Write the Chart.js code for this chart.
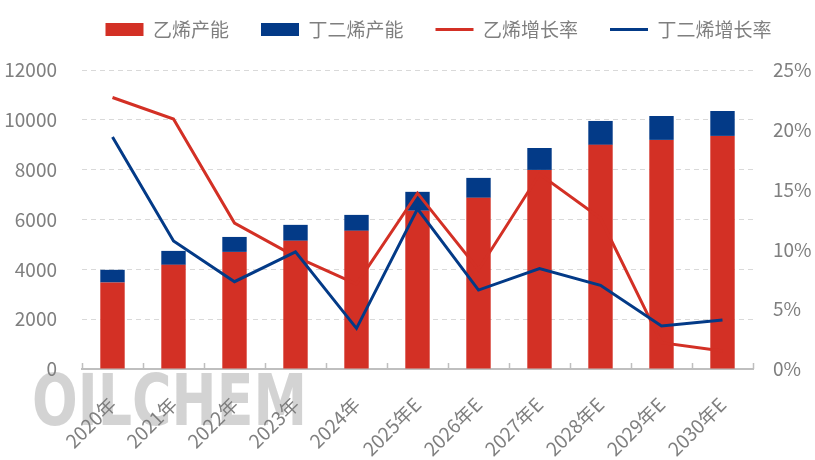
<!DOCTYPE html>
<html>
<head>
<meta charset="utf-8">
<script src="https://cdn.jsdelivr.net/npm/chart.js@4/dist/chart.umd.min.js"></script>
<style>
  html, body { margin: 0; padding: 0; background: #fff; }
  #wrap { width: 815px; height: 460px; }
</style>
</head>
<body>
<div id="wrap"><canvas id="grafico"></canvas></div>
<script>
// Categorías del eje X
const anios = ['2020年', '2021年', '2022年', '2023年', '2024年', '2025年E', '2026年E', '2027年E', '2028年E', '2029年E', '2030年E'];

// Capacidad (barras apiladas, eje izquierdo)
const capEtileno  = [3470, 4180, 4700, 5145, 5545, 6350, 6870, 7990, 8995, 9195, 9355];
const capButadieno = [510, 560, 600, 640, 640, 760, 800, 880, 960, 960, 1000];

// Tasas de crecimiento en % (líneas, eje derecho)
const crecEtileno   = [22.7, 20.9, 12.2, 9.4, 7.1, 14.7, 8.3, 16.3, 12.6, 2.2, 1.5];
const crecButadieno = [19.4, 10.7, 7.3, 9.8, 3.4, 13.4, 6.6, 8.4, 7.0, 3.6, 4.1];

const ROJO = '#D33025';
const AZUL = '#033A87';
const GRIS = '#7f7f7f';
const FUENTE = "'Noto Sans CJK SC', 'Noto Sans', sans-serif";

// Marca de agua "OILCHEM" detrás del gráfico
const marcaAgua = {
    id: 'marcaAgua',
    beforeDraw(chart) {
        const ctx = chart.ctx;
        ctx.save();
        ctx.font = "bold 71px 'DejaVu Sans', sans-serif";
        const w = ctx.measureText('OILCHEM').width;
        const g = ctx.createLinearGradient(0, 373, 0, 426);
        g.addColorStop(0, '#d3d3d3');
        g.addColorStop(1, '#f5f5f5');
        ctx.fillStyle = g;
        ctx.textBaseline = 'alphabetic';
        ctx.translate(32, 425);
        ctx.scale(275 / w, 1);
        ctx.fillText('OILCHEM', 0, 0);
        ctx.restore();
    }
};

// Pequeñas marcas hacia arriba sobre el eje X, entre categorías
const marcasEje = {
    id: 'marcasEje',
    afterDraw(chart) {
        const x = chart.scales.x;
        const n = x.getLabels().length;
        const ctx = chart.ctx;
        ctx.save();
        ctx.strokeStyle = '#bfbfbf';
        ctx.lineWidth = 1.5;
        for (let i = 0; i <= n; i++) {
            const px = Math.round(x.left + i * (x.right - x.left) / n) + 0.5;
            ctx.beginPath();
            ctx.moveTo(px, x.top);
            ctx.lineTo(px, x.top - 6);
            ctx.stroke();
        }
        ctx.restore();
    }
};

// Ajusta el alto y la posición de la leyenda
const ajusteLeyenda = {
    id: 'ajusteLeyenda',
    beforeInit(chart) {
        const fitOriginal = chart.legend.fit;
        chart.legend.fit = function () {
            fitOriginal.call(this);
            this.height = 82;
        };
    },
    afterLayout(chart) {
        chart.legend.left += 31;
        chart.legend.right += 31;
    }
};

new Chart(document.getElementById('grafico'), {
    type: 'bar',
    data: {
        labels: anios,
        datasets: [
            { label: '乙烯产能', data: capEtileno, backgroundColor: ROJO, stack: 'cap', yAxisID: 'y', order: 2, pointStyle: 'rect', barPercentage: 0.4, categoryPercentage: 1 },
            { label: '丁二烯产能', data: capButadieno, backgroundColor: AZUL, stack: 'cap', yAxisID: 'y', order: 2, pointStyle: 'rect', barPercentage: 0.4, categoryPercentage: 1 },
            { type: 'line', label: '乙烯增长率', data: crecEtileno, borderColor: ROJO, backgroundColor: ROJO, borderWidth: 3, pointRadius: 0, pointStyle: 'line', tension: 0, yAxisID: 'y2', order: 1 },
            { type: 'line', label: '丁二烯增长率', data: crecButadieno, borderColor: AZUL, backgroundColor: AZUL, borderWidth: 3, pointRadius: 0, pointStyle: 'line', tension: 0, yAxisID: 'y2', order: 0 }
        ]
    },
    options: {
        responsive: true,
        maintainAspectRatio: false,
        animation: false,
        layout: { padding: { top: -12, left: 0, right: 0, bottom: 0 } },
        plugins: {
            legend: {
                position: 'top',
                labels: {
                    usePointStyle: true,
                    pointStyleWidth: 38,
                    boxHeight: 13,
                    padding: 32,
                    color: GRIS,
                    font: { size: 19, family: FUENTE },
                    // Mantiene el orden original de las series en la leyenda
                    sort: (a, b) => a.datasetIndex - b.datasetIndex
                }
            },
            tooltip: { enabled: false }
        },
        scales: {
            x: {
                stacked: true,
                afterFit: s => { s.height = 91; },
                grid: { display: false, drawTicks: false },
                border: { color: '#bfbfbf', width: 2 },
                ticks: {
                    autoSkip: false,
                    minRotation: 45,
                    maxRotation: 45,
                    padding: 24,
                    color: GRIS,
                    font: { size: 19, family: FUENTE }
                }
            },
            y: {
                stacked: true,
                position: 'left',
                min: 0,
                max: 12000,
                afterFit: s => { s.width = 82; },
                border: { display: false, dash: [5, 4] },
                grid: { color: '#d9d9d9', lineWidth: 1, drawTicks: false },
                ticks: {
                    stepSize: 2000,
                    padding: 25,
                    color: GRIS,
                    font: { size: 19, family: FUENTE },
                    callback: v => String(v)
                }
            },
            y2: {
                position: 'right',
                min: 0,
                max: 25,
                afterFit: s => { s.width = 62; },
                border: { display: false },
                grid: { display: false, drawTicks: false },
                ticks: {
                    stepSize: 5,
                    padding: 20,
                    color: GRIS,
                    font: { size: 19, family: FUENTE },
                    callback: v => v + '%'
                }
            }
        }
    },
    plugins: [marcaAgua, marcasEje, ajusteLeyenda]
});
</script>
</body>
</html>
